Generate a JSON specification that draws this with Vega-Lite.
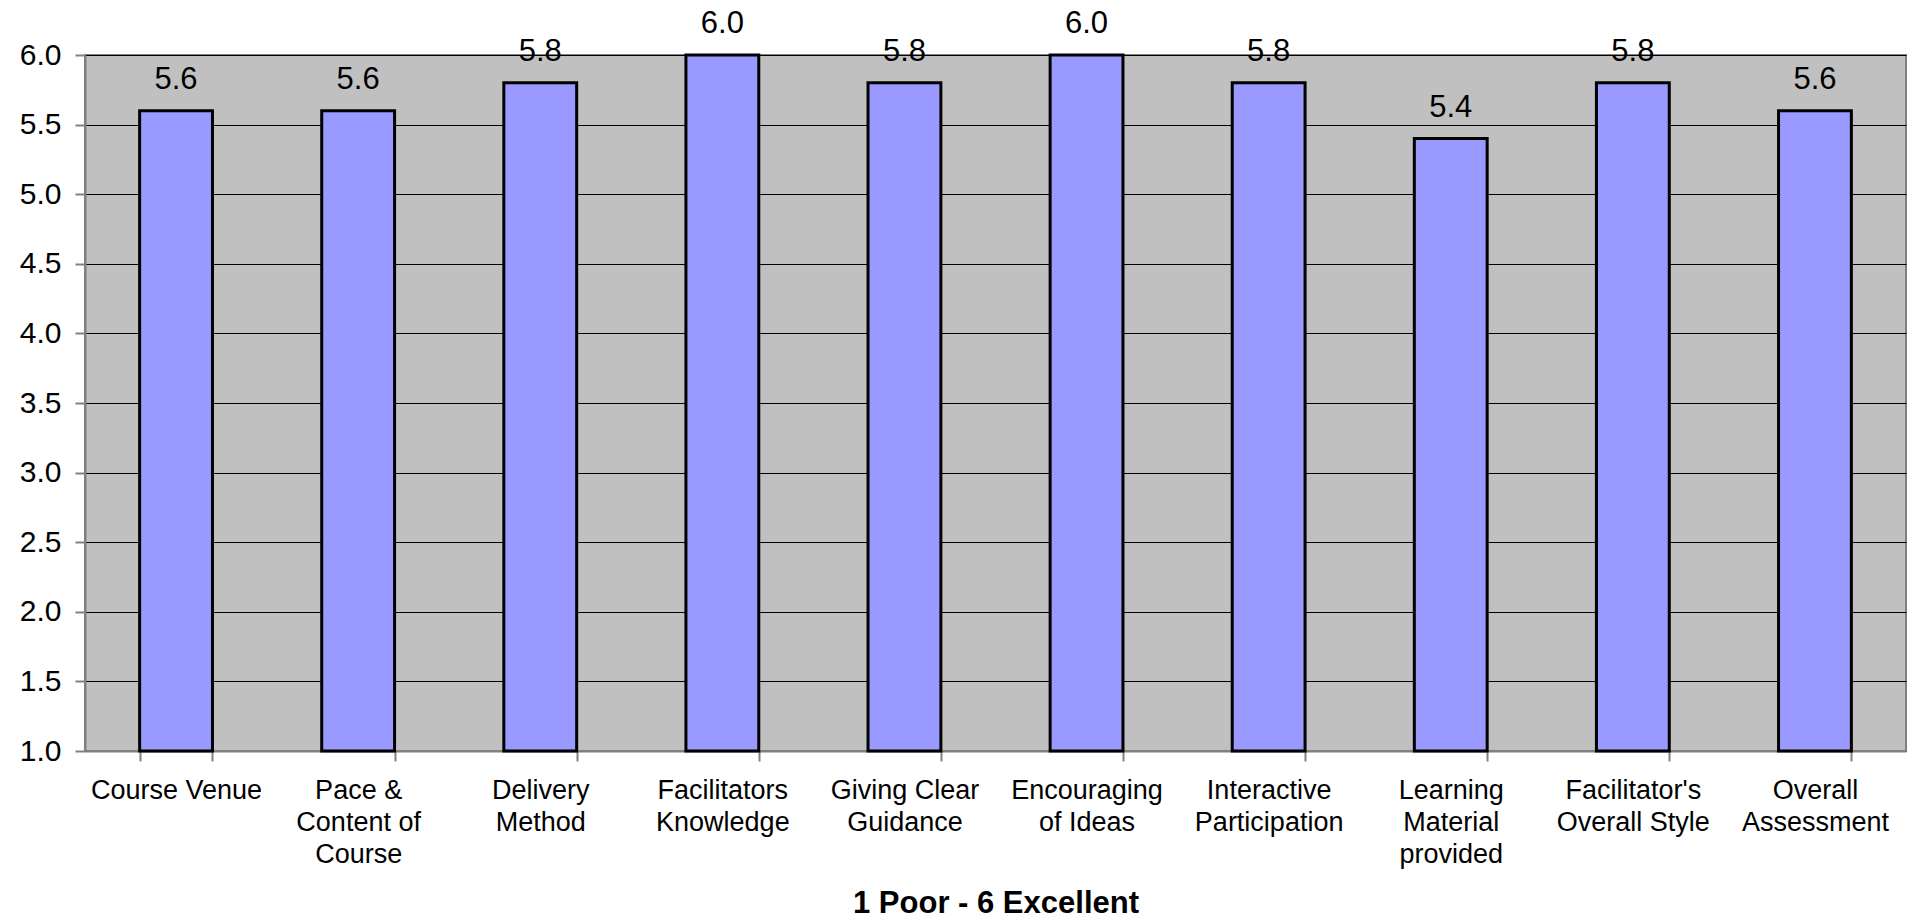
{
  "$schema": "https://vega.github.io/schema/vega-lite/v6.json",
  "autosize": {"type": "none"},
  "padding": {"left": 85, "top": 55, "right": 2, "bottom": 169},
  "width": 1821,
  "height": 696,
  "background": "white",
  "config": {
    "view": {"fill": "#C0C0C0", "stroke": "#808080", "strokeWidth": 2},
    "font": "Liberation Sans"
  },
  "data": {
    "values": [
      {"category": "Course Venue", "score": 5.6},
      {"category": "Pace & Content of Course", "score": 5.6},
      {"category": "Delivery Method", "score": 5.8},
      {"category": "Facilitators Knowledge", "score": 6.0},
      {"category": "Giving Clear Guidance", "score": 5.8},
      {"category": "Encouraging of Ideas", "score": 6.0},
      {"category": "Interactive Participation", "score": 5.8},
      {"category": "Learning Material provided", "score": 5.4},
      {"category": "Facilitator's Overall Style", "score": 5.8},
      {"category": "Overall Assessment", "score": 5.6}
    ]
  },
  "encoding": {
    "x": {
      "field": "category",
      "type": "nominal",
      "sort": null,
      "scale": {"paddingInner": 0.6, "paddingOuter": 0.3},
      "axis": {
        "title": "1 Poor - 6 Excellent",
        "titleFont": "Liberation Sans",
        "titleFontSize": 31,
        "titleFontWeight": "bold",
        "titleColor": "black",
        "titleY": 152,
        "titleBaseline": "middle",
        "labelAngle": 0,
        "labelFont": "Liberation Sans",
        "labelFontSize": 27,
        "labelColor": "black",
        "labelLineHeight": 32,
        "labelBaseline": "top",
        "labelPadding": 16,
        "labelLimit": 0,
        "labelExpr": "datum.label == 'Pace & Content of Course' ? ['Pace &', 'Content of', 'Course'] : datum.label == 'Delivery Method' ? ['Delivery', 'Method'] : datum.label == 'Facilitators Knowledge' ? ['Facilitators', 'Knowledge'] : datum.label == 'Giving Clear Guidance' ? ['Giving Clear', 'Guidance'] : datum.label == 'Encouraging of Ideas' ? ['Encouraging', 'of Ideas'] : datum.label == 'Interactive Participation' ? ['Interactive', 'Participation'] : datum.label == 'Learning Material provided' ? ['Learning', 'Material', 'provided'] : datum.label == \"Facilitator's Overall Style\" ? [\"Facilitator's\", 'Overall Style'] : datum.label == 'Overall Assessment' ? ['Overall', 'Assessment'] : datum.label",
        "tickBand": "extent",
        "tickColor": "#808080",
        "tickWidth": 2,
        "tickSize": 10,
        "domainColor": "#808080",
        "domainWidth": 2,
        "grid": false
      }
    }
  },
  "layer": [
    {
      "mark": {"type": "bar", "fill": "#9999FF", "stroke": "black", "strokeWidth": 3},
      "encoding": {
        "y": {
          "field": "score",
          "type": "quantitative",
          "scale": {"domain": [1, 6], "nice": false, "zero": false},
          "axis": {
            "title": null,
            "values": [1, 1.5, 2, 2.5, 3, 3.5, 4, 4.5, 5, 5.5, 6],
            "format": ".1f",
            "labelFont": "Liberation Sans",
            "labelFontSize": 30,
            "labelColor": "black",
            "labelPadding": 14,
            "tickColor": "#808080",
            "tickWidth": 2,
            "tickSize": 10,
            "domainColor": "#808080",
            "domainWidth": 2,
            "grid": true,
            "gridColor": "black",
            "gridWidth": 1.2,
            "gridOpacity": 1
          }
        },
        "y2": {"datum": 1}
      }
    },
    {
      "mark": {"type": "text", "baseline": "alphabetic", "dy": -22, "fontSize": 31, "font": "Liberation Sans", "color": "black"},
      "encoding": {
        "y": {"field": "score", "type": "quantitative"},
        "text": {"field": "score", "type": "quantitative", "format": ".1f"}
      }
    }
  ]
}
